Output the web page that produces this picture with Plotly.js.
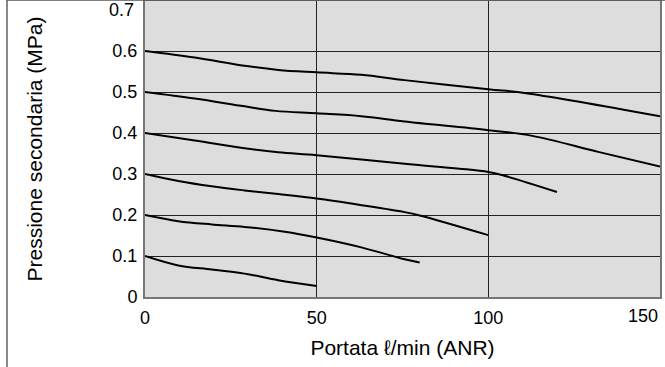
<!DOCTYPE html>
<html>
<head>
<meta charset="utf-8">
<script src="https://cdn.plot.ly/plotly-3.0.1.min.js"></script>
<style>
html,body{margin:0;padding:0;background:#fff;}
#chart{width:665px;height:367px;}
</style>
</head>
<body>
<div id="chart"></div>
<script>
// Flow (l/min ANR) vs secondary pressure (MPa), one curve per set pressure
const flow06 = [0, 14.5, 29, 38.8, 50, 63, 75.6, 100, 112, 150];
const pres06 = [0.600, 0.584, 0.564, 0.554, 0.548, 0.542, 0.529, 0.507, 0.496, 0.441];
const flow05 = [0, 14.5, 29, 38, 50, 63, 75.6, 100, 112.8, 132, 150];
const pres05 = [0.500, 0.484, 0.465, 0.454, 0.448, 0.441, 0.428, 0.407, 0.393, 0.354, 0.318];
const flow04 = [0, 14.5, 29, 38.8, 50, 75.6, 91.6, 100, 104.2, 120];
const pres04 = [0.400, 0.382, 0.363, 0.353, 0.346, 0.325, 0.313, 0.305, 0.297, 0.256];
const flow03 = [0, 9.7, 19.4, 29, 38.8, 50, 63, 75.6, 80, 100];
const pres03 = [0.300, 0.283, 0.270, 0.260, 0.251, 0.240, 0.224, 0.207, 0.199, 0.151];
const flow02 = [0, 9.7, 19.4, 29, 40.7, 50, 63, 75.6, 80];
const pres02 = [0.200, 0.185, 0.177, 0.171, 0.159, 0.145, 0.121, 0.092, 0.084];
const flow01 = [0, 9.7, 19.4, 29, 38.8, 50];
const pres01 = [0.100, 0.077, 0.067, 0.057, 0.041, 0.027];

const xTickVals = [0, 50, 100, 150];
const xTickText = ['0', '50', '100', '150'];
const yTickVals = [0, 0.1, 0.2, 0.3, 0.4, 0.5, 0.6, 0.7];
const yTickText = ['0', '0.1', '0.2', '0.3', '0.4', '0.5', '0.6', '0.7'];

const xTitle = 'Portata \u2113/min (ANR)';
const yTitle = 'Pressione secondaria (MPa)';

const series = [
  [flow06, pres06], [flow05, pres05], [flow04, pres04],
  [flow03, pres03], [flow02, pres02], [flow01, pres01]
];

const traces = series.map(s => ({
  x: s[0], y: s[1], type: 'scatter', mode: 'lines',
  line: {color: '#000', width: 2, shape: 'spline', smoothing: 1},
  hoverinfo: 'skip', showlegend: false
}));

const font = {family: '"Liberation Sans", Arial, Helvetica, sans-serif', color: '#000'};
const lastX = xTickVals.length - 1;
const lastY = yTickVals.length - 1;
const TICK = 18, TITLE = 21;

const layout = {
  width: 665, height: 367,
  margin: {l: 145, r: 5, t: 1, b: 70},
  paper_bgcolor: '#fff',
  plot_bgcolor: '#dddddd',
  font: Object.assign({size: TICK}, font),
  showlegend: false,
  xaxis: {
    range: [0, 150], fixedrange: true,
    tickvals: xTickVals.slice(0, lastX), ticktext: xTickText.slice(0, lastX),
    showgrid: true, gridcolor: '#222', gridwidth: 1,
    zeroline: false, showline: true, mirror: true, linecolor: '#777', linewidth: 2,
    ticks: '', ticklabelstandoff: 3,
    tickfont: Object.assign({size: TICK}, font),
    title: {text: xTitle, font: Object.assign({size: TITLE}, font), standoff: 14}
  },
  yaxis: {
    range: [0, 0.722], fixedrange: true,
    tickvals: yTickVals.slice(0, lastY), ticktext: yTickText.slice(0, lastY),
    showgrid: true, gridcolor: '#222', gridwidth: 1,
    zeroline: false, showline: true, mirror: true, linecolor: '#777', linewidth: 2,
    ticks: '', ticklabelstandoff: 2,
    tickfont: Object.assign({size: TICK}, font),
    title: {text: yTitle, font: Object.assign({size: TITLE}, font), standoff: 64}
  },
  annotations: [{
    x: xTickVals[lastX], xref: 'x', y: -0.064, yref: 'paper',
    text: xTickText[lastX], showarrow: false, xanchor: 'right', yanchor: 'middle',
    font: Object.assign({size: TICK}, font)
  }, {
    x: -0.017, xref: 'paper', y: yTickVals[lastY], yref: 'y',
    text: yTickText[lastY], showarrow: false, xanchor: 'right', yanchor: 'middle',
    font: Object.assign({size: TICK}, font)
  }],
  shapes: [
    {type: 'line', xref: 'paper', yref: 'paper', x0: -0.268, x1: -0.268, y0: -0.24, y1: 1.004,
     line: {color: '#888', width: 2}},
    {type: 'line', xref: 'paper', yref: 'paper', x0: -0.268, x1: 1.02, y0: 1.004, y1: 1.004,
     line: {color: '#555', width: 2}}
  ]
};

Plotly.newPlot('chart', traces, layout, {staticPlot: true, displayModeBar: false});
</script>
</body>
</html>
